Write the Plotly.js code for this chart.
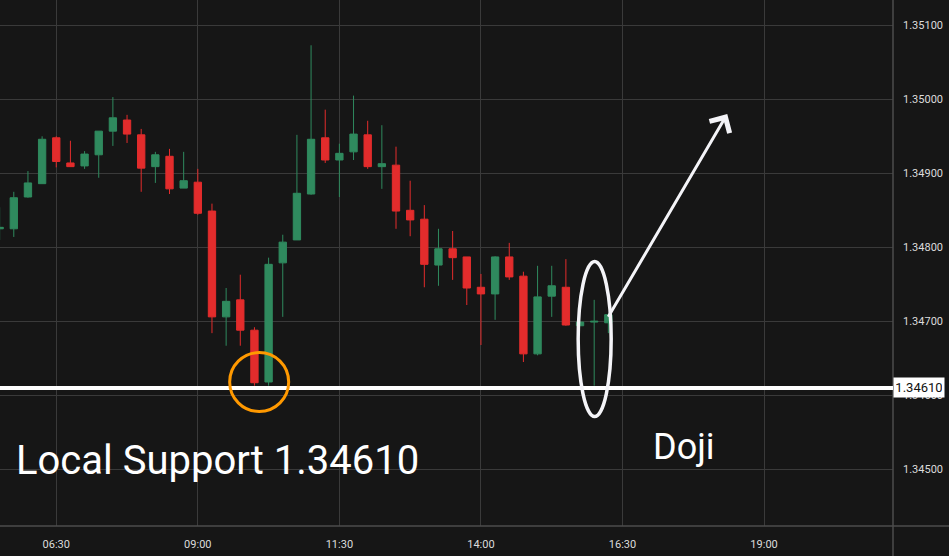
<!DOCTYPE html>
<html>
<head>
<meta charset="utf-8">
<script src="https://cdn.plot.ly/plotly-3.0.1.min.js"></script>
<style>
  html, body { margin: 0; padding: 0; background: #161616; }
  #chart { width: 949px; height: 556px; }
</style>
</head>
<body>
<div id="chart"></div>
<script>
// 15-minute candles, 05:30 to 16:15
const times = [
  '2024-01-01 05:30','2024-01-01 05:45','2024-01-01 06:00','2024-01-01 06:15',
  '2024-01-01 06:30','2024-01-01 06:45','2024-01-01 07:00','2024-01-01 07:15',
  '2024-01-01 07:30','2024-01-01 07:45','2024-01-01 08:00','2024-01-01 08:15',
  '2024-01-01 08:30','2024-01-01 08:45','2024-01-01 09:00','2024-01-01 09:15',
  '2024-01-01 09:30','2024-01-01 09:45','2024-01-01 10:00','2024-01-01 10:15',
  '2024-01-01 10:30','2024-01-01 10:45','2024-01-01 11:00','2024-01-01 11:15',
  '2024-01-01 11:30','2024-01-01 11:45','2024-01-01 12:00','2024-01-01 12:15',
  '2024-01-01 12:30','2024-01-01 12:45','2024-01-01 13:00','2024-01-01 13:15',
  '2024-01-01 13:30','2024-01-01 13:45','2024-01-01 14:00','2024-01-01 14:15',
  '2024-01-01 14:30','2024-01-01 14:45','2024-01-01 15:00','2024-01-01 15:15',
  '2024-01-01 15:30','2024-01-01 15:45','2024-01-01 16:00','2024-01-01 16:15'
];
const openP = [
  1.34825,1.34825,1.34868,1.34886,1.34948,1.34914,1.34910,1.34925,
  1.34957,1.34972,1.34952,1.34909,1.34923,1.34880,1.34888,1.34849,
  1.34706,1.34729,1.34688,1.34618,1.34779,1.34810,1.34872,1.34948,
  1.34918,1.34929,1.34952,1.34909,1.34911,1.34850,1.34838,1.34776,
  1.34798,1.34787,1.34746,1.34737,1.34787,1.34761,1.34656,1.34734,
  1.34746,1.34694,1.34699,1.34698
];
const highP = [
  1.34854,1.34875,1.34903,1.34950,1.34950,1.34944,1.34930,1.34957,
  1.35003,1.34979,1.34960,1.34929,1.34933,1.34929,1.34906,1.34859,
  1.34745,1.34763,1.34692,1.34786,1.34817,1.34952,1.35073,1.34986,
  1.34940,1.35005,1.34971,1.34965,1.34936,1.34890,1.34857,1.34825,
  1.34822,1.34787,1.34764,1.34788,1.34806,1.34767,1.34775,1.34775,
  1.34784,1.34699,1.34729,1.34709
];
const lowP = [
  1.34810,1.34814,1.34867,1.34886,1.34908,1.34909,1.34906,1.34894,
  1.34937,1.34941,1.34875,1.34887,1.34872,1.34880,1.34844,1.34684,
  1.34667,1.34667,1.34613,1.34613,1.34706,1.34810,1.34871,1.34914,
  1.34868,1.34918,1.34906,1.34879,1.34825,1.34815,1.34746,1.34748,
  1.34756,1.34722,1.34668,1.34702,1.34756,1.34645,1.34654,1.34706,
  1.34694,1.34694,1.34613,1.34684
];
const closeP = [
  1.34827,1.34867,1.34887,1.34946,1.34916,1.34909,1.34926,1.34957,
  1.34975,1.34953,1.34907,1.34925,1.34879,1.34890,1.34846,1.34706,
  1.34727,1.34688,1.34617,1.34777,1.34807,1.34873,1.34946,1.34918,
  1.34927,1.34953,1.34909,1.34913,1.34849,1.34837,1.34777,1.34798,
  1.34786,1.34745,1.34737,1.34787,1.34760,1.34656,1.34733,1.34748,
  1.34695,1.34699,1.34700,1.34709
];
const yTickVals = [1.345, 1.346, 1.347, 1.348, 1.349, 1.350, 1.351];
const supportLevel = 1.34610;
const supportLabel = '1.34610';
const mainText = 'Local Support 1.34610';
const dojiText = 'Doji';

const GREEN = '#2f8a5e';
const RED = '#e32c2c';
const GRID = '#3a3a3a';
const AXIS = '#4c4c4c';
const TXT = '#dcdcdc';

const trace = {
  type: 'candlestick',
  x: times, open: openP, high: highP, low: lowP, close: closeP,
  increasing: { line: { color: GREEN, width: 1 }, fillcolor: GREEN },
  decreasing: { line: { color: RED, width: 1 }, fillcolor: RED },
  whiskerwidth: 0,
  hoverinfo: 'skip',
  showlegend: false
};

const layout = {
  width: 949, height: 556,
  margin: { l: 0, r: 55.5, t: 0, b: 30 },
  paper_bgcolor: '#161616',
  plot_bgcolor: '#161616',
  boxgap: 0.26,
  hovermode: false,
  showlegend: false,
  font: { family: 'Roboto, sans-serif', color: TXT, size: 11 },
  xaxis: {
    type: 'date',
    range: ['2024-01-01 05:30:23', '2024-01-01 21:16:37'],
    tick0: '2024-01-01 06:30',
    dtick: 9000000,
    tickformat: '%H:%M',
    showgrid: true, gridcolor: GRID, gridwidth: 1,
    zeroline: false, showline: false,
    ticks: '', ticklabelstandoff: 10,
    tickfont: { family: 'Roboto, sans-serif', size: 11, color: TXT },
    rangeslider: { visible: false },
    fixedrange: true
  },
  yaxis: {
    side: 'right',
    range: [1.344234, 1.351342],
    tickvals: yTickVals,
    tickformat: '.5f',
    showgrid: true, gridcolor: GRID, gridwidth: 1,
    zeroline: false, showline: false,
    ticks: '', ticklabelstandoff: 9,
    tickfont: { family: 'Roboto, sans-serif', size: 11, color: TXT },
    fixedrange: true
  },
  shapes: [
    // axis frame lines
    { type: 'line', xref: 'paper', yref: 'paper', x0: 0, x1: 1.07, y0: 0, y1: 0,
      line: { color: AXIS, width: 1.5 } },
    { type: 'line', xref: 'paper', yref: 'paper', x0: 1, x1: 1, y0: -0.06, y1: 1,
      line: { color: AXIS, width: 1.5 } },
    // support line
    { type: 'line', xref: 'paper', yref: 'y', x0: 0, x1: 1, y0: supportLevel, y1: supportLevel,
      line: { color: '#ffffff', width: 4 } },
    // orange circle
    { type: 'circle', xref: 'x', yref: 'y', xsizemode: 'pixel', ysizemode: 'pixel',
      xanchor: '2024-01-01 10:05', yanchor: 1.34618,
      x0: -29.5, x1: 29.5, y0: -29.5, y1: 29.5,
      line: { color: '#ff9900', width: 3 } },
    // white ellipse around doji
    { type: 'circle', xref: 'x', yref: 'y', xsizemode: 'pixel', ysizemode: 'pixel',
      xanchor: '2024-01-01 16:00:30', yanchor: 1.34676,
      x0: -16.5, x1: 16.5, y0: -77.5, y1: 77.5,
      line: { color: '#f4f4f8', width: 3.5 } }
  ],
  annotations: [
    { xref: 'x', yref: 'y', axref: 'x', ayref: 'y',
      x: '2024-01-01 18:21', y: 1.34980,
      ax: '2024-01-01 16:14', ay: 1.34704,
      text: '', showarrow: true, arrowhead: 4, arrowsize: 1.5, arrowwidth: 3,
      arrowcolor: '#f4f4f8', standoff: 0, startstandoff: 0 },
    { xref: 'paper', yref: 'paper', x: 0.016, y: 0.1236, xanchor: 'left', yanchor: 'middle',
      text: mainText, showarrow: false,
      font: { family: 'Roboto, sans-serif', size: 40, color: '#ffffff' } },
    { xref: 'paper', yref: 'paper', x: 0.729, y: 0.151, xanchor: 'left', yanchor: 'middle',
      text: dojiText, showarrow: false,
      font: { family: 'Roboto, sans-serif', size: 36, color: '#ffffff' } },
    { xref: 'paper', yref: 'y', x: 1, y: supportLevel, xanchor: 'left', yanchor: 'middle',
      text: supportLabel, showarrow: false, bgcolor: '#ffffff', borderpad: 2,
      width: 46, align: 'center',
      font: { family: 'Roboto, sans-serif', size: 13, color: '#111111' } }
  ]
};

Plotly.newPlot('chart', [trace], layout, { displayModeBar: false, staticPlot: true });
</script>
</body>
</html>
